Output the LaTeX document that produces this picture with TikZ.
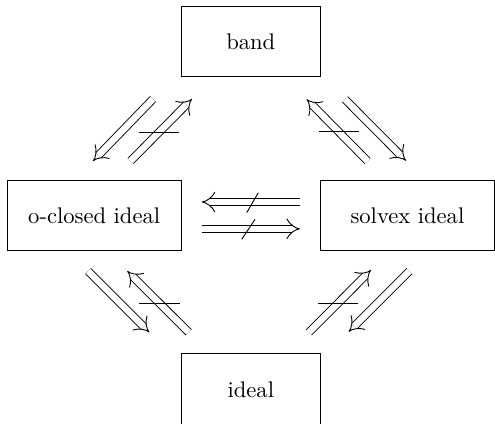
\documentclass[tikz,border=0pt]{standalone}
\usetikzlibrary{arrows.meta}
\begin{document}
\begin{tikzpicture}[x=0.4424pt,y=-0.4424pt,
  box/.style={draw,line width=0.45pt,minimum height=30.7pt,inner sep=0pt,font=\fontsize{10}{12}\selectfont},
  midbox/.style={box,minimum width=61.7pt},
  sidebox/.style={box,minimum width=77pt},
  impl/.style={double,double distance=2.9pt,line width=0.4pt,-{Implies}},
  negbar/.style={line width=0.4pt}]
\useasboundingbox (0,0) rectangle (495,423);
\node[midbox] (band) at (250.8,41.3) {band};
\node[sidebox] (oclosed) at (94.2,215.3) {o-closed ideal};
\node[sidebox] (solvex) at (407.4,215.3) {solvex ideal};
\node[midbox,minimum height=32pt] (ideal) at (250.8,390) {ideal};
% top-left pair
\coordinate (tl1s) at (153,99);   \coordinate (tl1e) at (93,161);
\coordinate (tl2s) at (130.5,161); \coordinate (tl2e) at (192,99);
\coordinate (tlb1) at (139,132);  \coordinate (tlb2) at (179,132);
\draw[impl] (tl1s) -- (tl1e);
\draw[impl] (tl2s) -- (tl2e);
\draw[negbar] (tlb1) -- (tlb2);
% top-right pair
\coordinate (tr1s) at (367.5,161); \coordinate (tr1e) at (306.7,99.3);
\coordinate (tr2s) at (345,99.3);  \coordinate (tr2e) at (406,160.7);
\coordinate (trb1) at (319.3,131.7); \coordinate (trb2) at (359,131.7);
\draw[impl] (tr1s) -- (tr1e);
\draw[impl] (tr2s) -- (tr2e);
\draw[negbar] (trb1) -- (trb2);
% middle pair
\coordinate (m1s) at (300,202);   \coordinate (m1e) at (201.7,202);
\coordinate (m2s) at (201.7,228.8); \coordinate (m2e) at (300,228.8);
\coordinate (ms1a) at (246.7,212.7); \coordinate (ms1b) at (258.3,192.7);
\coordinate (ms2a) at (241.7,239.3); \coordinate (ms2b) at (255,219.3);
\draw[impl] (m1s) -- (m1e);
\draw[impl] (m2s) -- (m2e);
\draw[negbar] (ms1a) -- (ms1b);
\draw[negbar] (ms2a) -- (ms2b);
% bottom-left pair
\coordinate (bl1s) at (88,271);    \coordinate (bl1e) at (149.3,332.3);
\coordinate (bl2s) at (188.7,332.3); \coordinate (bl2e) at (127.3,271);
\coordinate (blb1) at (139.3,303.3); \coordinate (blb2) at (180,303.3);
\draw[impl] (bl1s) -- (bl1e);
\draw[impl] (bl2s) -- (bl2e);
\draw[negbar] (blb1) -- (blb2);
% bottom-right pair
\coordinate (br1s) at (309,332.3); \coordinate (br1e) at (371,270);
\coordinate (br2s) at (409.5,271); \coordinate (br2e) at (348.7,331.7);
\coordinate (brb1) at (318.3,303.3); \coordinate (brb2) at (358.3,303.3);
\draw[impl] (br1s) -- (br1e);
\draw[impl] (br2s) -- (br2e);
\draw[negbar] (brb1) -- (brb2);
\end{tikzpicture}
\end{document}
